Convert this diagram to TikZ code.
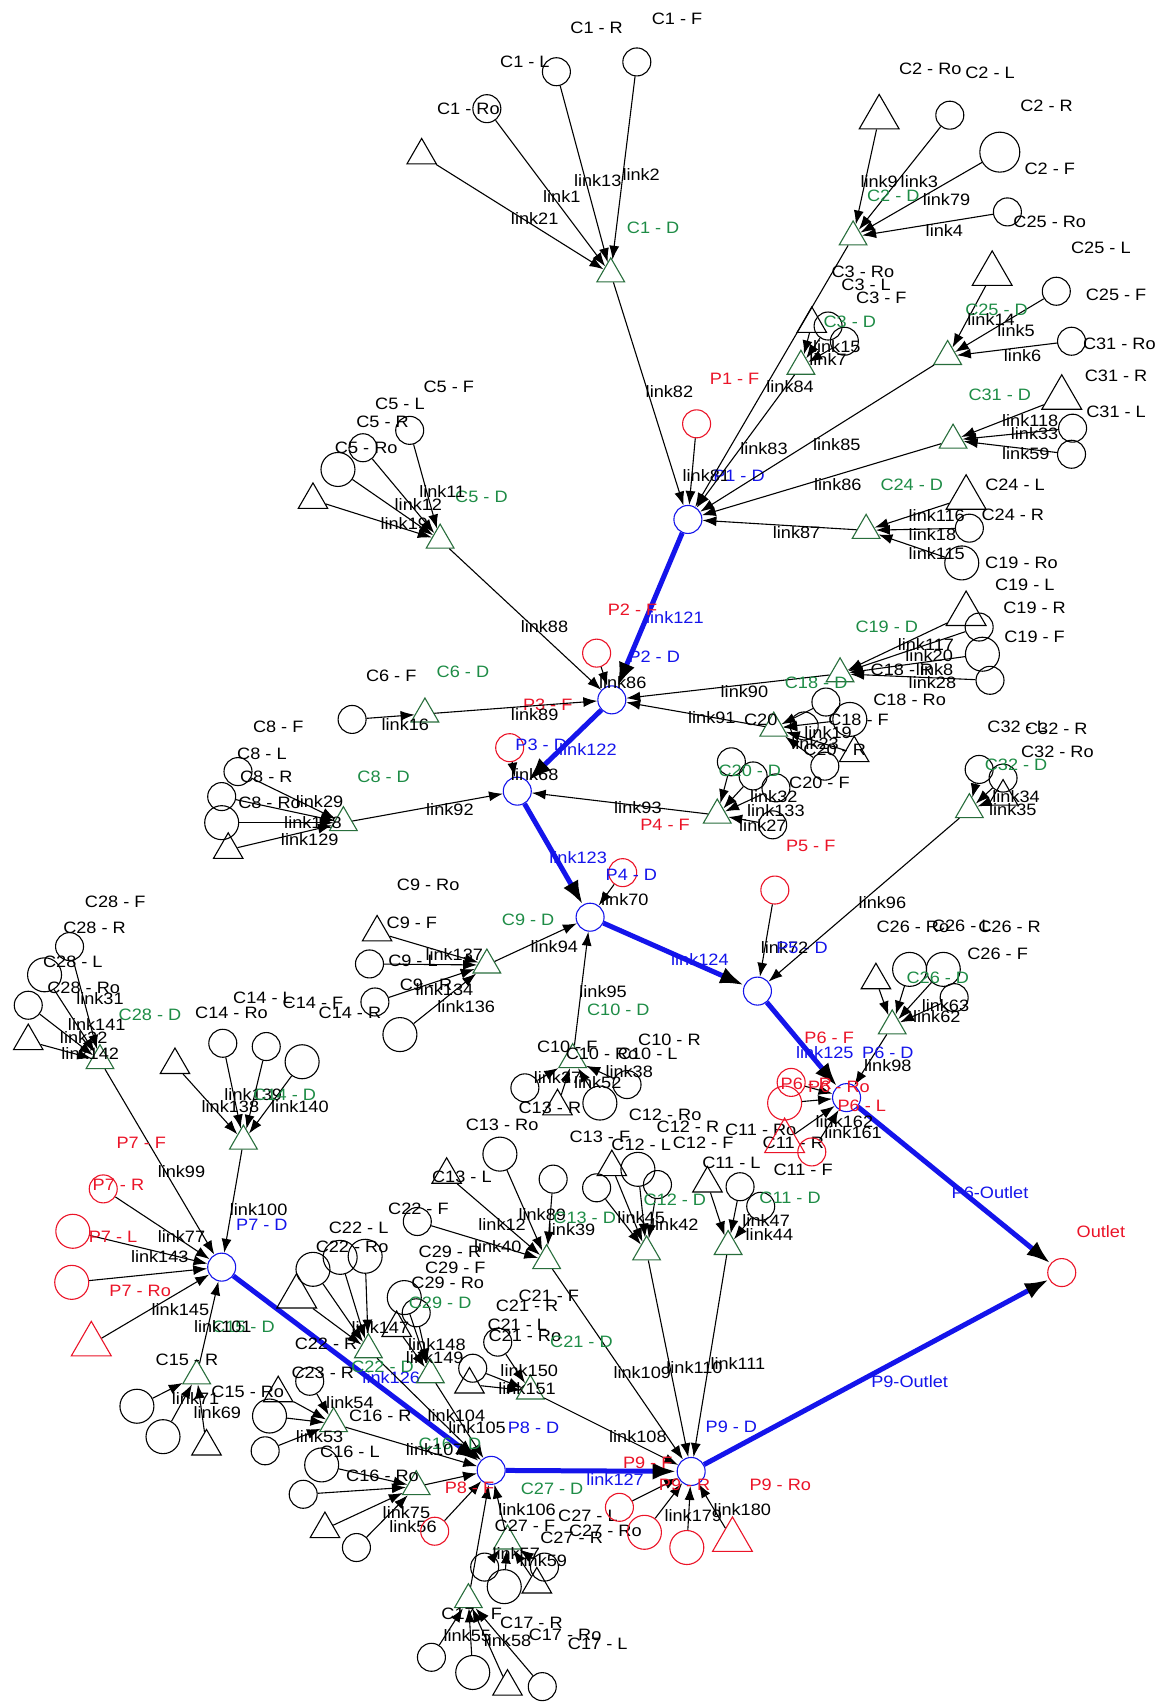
\documentclass[tikz,border=0pt]{standalone}
\usepackage{fontspec}
\setmainfont{Liberation Sans}[FakeStretch=1.1]
\usetikzlibrary{arrows.meta,shapes.geometric}
\definecolor{dgreen}{RGB}{40,110,60}
\definecolor{lgreen}{RGB}{30,140,70}
\definecolor{pred}{RGB}{235,20,40}
\definecolor{pblue}{RGB}{20,20,235}
\newcounter{lbn}
\newcommand\Lbl[3][lk]{\stepcounter{lbn}\node[#1] (lbl\arabic{lbn}) at (#2) {#3};}
\newcommand\Ed[2]{\draw[ed] (#1) -- (#2);}
\newcommand\Bl[2]{\draw[be] (#1) -- (#2);}
\tikzset{
 every node/.style={font=\fontsize{16.5}{17}\selectfont},
 ccs/.style={circle,draw,minimum size=28pt,inner sep=0pt,line width=1.1pt},
 ccm/.style={ccs,minimum size=34pt},
 ccb/.style={ccs,minimum size=40pt},
 tts/.style={regular polygon,regular polygon sides=3,draw,minimum size=34pt,inner sep=0pt,line width=1.1pt},
 ttb/.style={tts,minimum size=46pt},
 ttd/.style={tts,draw=dgreen,minimum size=32pt},
 pnn/.style={ccs,draw=pblue,fill=white},
 rcs/.style={ccs,draw=pred}, rcm/.style={ccm,draw=pred}, rts/.style={ttb,draw=pred},
 ed/.style={draw,line width=1.1pt,-{Latex[length=14pt,width=10pt]}},
 be/.style={draw=pblue,line width=5pt,-{Latex[length=24pt,width=17pt,color=black]}},
 lk/.style={inner sep=0pt,text=black}, lg/.style={lk,text=lgreen},
 lr/.style={lk,text=pred}, lb/.style={lk,text=pblue}
}
\begin{document}
\begin{tikzpicture}[x=1.0872pt,y=-1.0872pt]
\useasboundingbox[fill=white] (0,0) rectangle (1067,1568);
% ---------------- main pipe nodes
\node[pnn] (p1) at (633,478) {};
\node[pnn] (p2) at (563,644) {};
\node[pnn] (p3) at (476,728) {};
\node[pnn] (p4) at (543,844) {};
\node[pnn] (p5) at (697,912) {};
\node[pnn] (p6) at (779,1010) {};
\node[rcs] (out) at (977,1171) {};
\node[pnn] (p7) at (204,1166) {};
\node[pnn] (p8) at (452,1353) {};
\node[pnn] (p9) at (636,1354) {};
\Bl{p1}{p2}\Bl{p2}{p3}\Bl{p3}{p4}\Bl{p4}{p5}\Bl{p5}{p6}\Bl{p6}{out}
\Bl{p7}{p8}\Bl{p8}{p9}\Bl{p9}{out}
\Lbl[lb]{621,568}{link121}\Lbl[lb]{541,690}{link122}\Lbl[lb]{532,789}{link123}
\Lbl[lb]{644,883}{link124}\Lbl[lb]{759,969}{link125}\Lbl[lb]{360,1268}{link126}
\Lbl[lb]{566,1361}{link127}\Lbl[lb]{911,1097}{P6-Outlet}\Lbl[lb]{837,1271}{P9-Outlet}
\Lbl[lr]{1013,1133}{Outlet}
% ---------------- P feeders
\node[rcs] (p1f) at (641,390) {};\Ed{p1f}{p1}
\Lbl[lr]{676,349}{P1 - F}\Lbl{650,438}{link81}\Lbl[lb]{680,438}{P1 - D}
\node[rcs] (p2f) at (549,601) {};\Ed{p2f}{p2}
\Lbl[lr]{582,561}{P2 - F}\Lbl[lb]{602,604}{P2 - D}\Lbl{573,628}{link86}
\node[rcs] (p3f) at (469,688) {};\Ed{p3f}{p3}
\Lbl[lr]{504,649}{P3 - F}\Lbl[lb]{498,685}{P3 - D}\Lbl{492,713}{link68}
\node[rcs] (p4f) at (573,803) {};\Ed{p4f}{p4}
\Lbl[lr]{612,759}{P4 - F}\Lbl[lb]{581,805}{P4 - D}\Lbl{575,828}{link70}
\node[rcs] (p5f) at (713,819) {};\Ed{p5f}{p5}
\Lbl[lr]{746,778}{P5 - F}\Lbl{722,872}{link72}\Lbl[lb]{738,872}{P5 - D}
% ---------------- C1
\node[tts] (c1t) at (388,143) {};
\node[ccs] (c1ro) at (448,100) {};
\node[ccs] (c1l) at (512,66) {};
\node[ccs] (c1f) at (586,57) {};
\node[ttd] (c1d) at (562,252) {};
\Ed{c1t}{c1d}\Ed{c1ro}{c1d}\Ed{c1l}{c1d}\Ed{c1f}{c1d}\Ed{c1d}{p1}
\Lbl{549,26}{C1 - R}\Lbl{623,17}{C1 - F}\Lbl{483,57}{C1 - L}\Lbl{431,100}{C1 - Ro}
\Lbl{492,201}{link21}\Lbl{517,181}{link1}\Lbl{550,166}{link13}\Lbl{590,161}{link2}
\Lbl[lg]{601,210}{C1 - D}\Lbl{616,360}{link82}
% ---------------- C2
\node[ttb] (c2t) at (809,108) {};
\node[ccs] (c2a) at (874,106) {};
\node[ccb] (c2b) at (920,140) {};
\node[ccs] (c2c) at (927,195) {};
\node[ttd] (c2d) at (785,218) {};
\Ed{c2t}{c2d}\Ed{c2a}{c2d}\Ed{c2b}{c2d}\Ed{c2c}{c2d}\Ed{c2d}{p1}
\Lbl{856,63}{C2 - Ro}\Lbl{911,67}{C2 - L}\Lbl{963,97}{C2 - R}\Lbl{966,155}{C2 - F}
\Lbl{966,204}{C25 - Ro}\Lbl[lg]{822,180}{C2 - D}\Lbl{809,167}{link9}\Lbl{846,167}{link3}
\Lbl{871,184}{link79}\Lbl{869,212}{link4}\Lbl{703,413}{link83}
% ---------------- C3
\node[tts] (c3t) at (747,298) {};
\node[ccs] (c3a) at (762,300) {};
\node[ccs] (c3b) at (777,314) {};
\node[ttd] (c3d) at (737,337) {};
\Ed{c3t}{c3d}\Ed{c3a}{c3d}\Ed{c3b}{c3d}\Ed{c3d}{p1}
\Lbl{794,250}{C3 - Ro}\Lbl{797,262}{C3 - L}\Lbl{811,274}{C3 - F}\Lbl[lg]{782,296}{C3 - D}
\Lbl{770,319}{link15}\Lbl{762,331}{link7}\Lbl{727,356}{link84}
% ---------------- C25
\node[ttb] (c25t) at (913,252) {};
\node[ccs] (c25a) at (972,268) {};
\node[ccs] (c25b) at (986,314) {};
\node[ttd] (c25d) at (872,328) {};
\Ed{c25t}{c25d}\Ed{c25a}{c25d}\Ed{c25b}{c25d}\Ed{c25d}{p1}
\Lbl{1013,228}{C25 - L}\Lbl{1027,271}{C25 - F}\Lbl{1030,316}{C31 - Ro}
\Lbl[lg]{917,285}{C25 - D}\Lbl{912,294}{link14}\Lbl{935,304}{link5}\Lbl{941,327}{link6}
\Lbl{770,409}{link85}
% ---------------- C31
\node[ttb] (c31t) at (977,366) {};
\node[ccs] (c31a) at (987,394) {};
\node[ccs] (c31b) at (986,418) {};
\node[ttd] (c31d) at (877,405) {};
\Ed{c31t}{c31d}\Ed{c31a}{c31d}\Ed{c31b}{c31d}\Ed{c31d}{p1}
\Lbl{1027,346}{C31 - R}\Lbl{1027,379}{C31 - L}\Lbl[lg]{920,363}{C31 - D}
\Lbl{948,387}{link118}\Lbl{952,399}{link33}\Lbl{944,417}{link59}\Lbl{771,446}{link86}
% ---------------- C24
\node[ttb] (c24t) at (889,458) {};
\node[ccs] (c24a) at (892,486) {};
\node[ccm] (c24b) at (885,518) {};
\node[ttd] (c24d) at (797,488) {};
\Ed{c24t}{c24d}\Ed{c24a}{c24d}\Ed{c24b}{c24d}\Ed{c24d}{p1}
\Lbl[lg]{839,446}{C24 - D}\Lbl{934,446}{C24 - L}\Lbl{932,474}{C24 - R}
\Lbl{862,474}{link116}\Lbl{858,492}{link18}\Lbl{862,509}{link115}\Lbl{733,490}{link87}
\Lbl{940,518}{C19 - Ro}
% ---------------- C19 / C18
\node[ttb] (c19t) at (889,565) {};
\node[ccs] (c19a) at (901,577) {};
\node[ccm] (c19b) at (904,602) {};
\node[ccs] (c19c) at (911,626) {};
\node[ttd] (c19d) at (773,620) {};
\Ed{c19t}{c19d}\Ed{c19a}{c19d}\Ed{c19b}{c19d}\Ed{c19c}{c19d}\Ed{c19d}{p2}
\Lbl{943,538}{C19 - L}\Lbl{952,559}{C19 - R}\Lbl{952,586}{C19 - F}
\Lbl[lg]{816,577}{C19 - D}\Lbl[lg]{751,628}{C18 - D}\Lbl{852,593}{link117}
\Lbl{855,603}{link20}\Lbl{830,616}{C18 - R}\Lbl{860,616}{link8}\Lbl{858,628}{link28}
\Lbl{837,644}{C18 - Ro}\Lbl{685,636}{link90}
% ---------------- C20
\node[ttd] (c20d) at (712,670) {};
\node[ccs] (c20a) at (760,646) {};
\node[ccm] (c20b) at (782,662) {};
\node[ccs] (c20c) at (759,705) {};
\node[tts] (c20t) at (786,693) {};
\node[ccs] (c20e) at (740,668) {};
\Ed{c20a}{c20d}\Ed{c20b}{c20d}\Ed{c20c}{c20d}\Ed{c20t}{c20d}\Ed{c20e}{c20d}\Ed{c20d}{p2}
\Lbl{655,660}{link91}\Lbl{700,662}{C20}\Lbl{790,662}{C18 - F}\Lbl{762,674}{link19}
\Lbl{768,690}{C20 - R}\Lbl{750,684}{link23}
% ---------------- C30
\node[ttd] (c30d) at (660,750) {};
\node[ccs] (c30a) at (673,701) {};
\node[ccs] (c30b) at (714,725) {};
\node[ccs] (c30c) at (711,759) {};
\node[ccs] (c30e) at (693,714) {};
\Ed{c30a}{c30d}\Ed{c30b}{c30d}\Ed{c30c}{c30d}\Ed{c30e}{c30d}\Ed{c30d}{p3}
\Lbl[lg]{690,709}{C20 - D}\Lbl{754,720}{C20 - F}\Lbl{712,733}{link32}
\Lbl{714,746}{link133}\Lbl{702,760}{link27}\Lbl{587,743}{link93}
% ---------------- C32
\node[ttd] (c32d) at (892,745) {};
\node[ccs] (c32a) at (901,708) {};
\node[ccs] (c32b) at (923,716) {};
\node[tts] (c32t) at (923,733) {};
\Ed{c32a}{c32d}\Ed{c32b}{c32d}\Ed{c32t}{c32d}\Ed{c32d}{p5}
\Lbl{936,669}{C32 - L}\Lbl{972,671}{C32 - R}\Lbl{973,692}{C32 - Ro}
\Lbl[lg]{935,704}{C32 - D}\Lbl{935,733}{link34}\Lbl{932,745}{link35}\Lbl{812,831}{link96}
% ---------------- C5
\node[tts] (c5t) at (288,460) {};
\node[ccm] (c5a) at (311,432) {};
\node[ccs] (c5b) at (334,412) {};
\node[ccs] (c5c) at (377,396) {};
\node[ttd] (c5d) at (405,497) {};
\Ed{c5t}{c5d}\Ed{c5a}{c5d}\Ed{c5b}{c5d}\Ed{c5c}{c5d}\Ed{c5d}{p2}
\Lbl{413,356}{C5 - F}\Lbl{368,372}{C5 - L}\Lbl{352,388}{C5 - R}\Lbl{337,412}{C5 - Ro}
\Lbl[lg]{443,457}{C5 - D}\Lbl{407,452}{link11}\Lbl{385,464}{link12}\Lbl{372,482}{link19}
\Lbl{501,577}{link88}
% ---------------- C6
\node[ccs] (c6a) at (324,662) {};
\node[ttd] (c6d) at (391,657) {};
\Ed{c6a}{c6d}\Ed{c6d}{p2}
\Lbl{360,622}{C6 - F}\Lbl[lg]{426,618}{C6 - D}\Lbl{373,667}{link16}\Lbl{492,658}{link89}
% ---------------- C8
\node[ccs] (c8a) at (219,710) {};
\node[ccs] (c8b) at (204,733) {};
\node[ccm] (c8c) at (204,757) {};
\node[tts] (c8t) at (210,782) {};
\node[ttd] (c8d) at (316,757) {};
\Ed{c8a}{c8d}\Ed{c8b}{c8d}\Ed{c8c}{c8d}\Ed{c8t}{c8d}\Ed{c8d}{p3}
\Lbl{256,669}{C8 - F}\Lbl{241,694}{C8 - L}\Lbl{245,715}{C8 - R}\Lbl{248,739}{C8 - Ro}
\Lbl{294,738}{link29}\Lbl{288,757}{link128}\Lbl{285,773}{link129}
\Lbl[lg]{353,715}{C8 - D}\Lbl{414,745}{link92}
% ---------------- C9
\node[tts] (c9t) at (347,858) {};
\node[ccs] (c9a) at (340,887) {};
\node[ccs] (c9b) at (345,922) {};
\node[ccm] (c9c) at (368,952) {};
\node[ttd] (c9d) at (448,888) {};
\Ed{c9t}{c9d}\Ed{c9a}{c9d}\Ed{c9b}{c9d}\Ed{c9c}{c9d}\Ed{c9d}{p4}
\Lbl{394,814}{C9 - Ro}\Lbl{379,849}{C9 - F}\Lbl{380,884}{C9 - L}\Lbl{392,906}{C9 - R}
\Lbl{418,878}{link137}\Lbl{409,911}{link134}\Lbl{429,926}{link136}
\Lbl[lg]{486,846}{C9 - D}\Lbl{510,871}{link94}
% ---------------- C10
\node[ttd] (c10d) at (527,975) {};
\node[tts] (c10t) at (513,1018) {};
\node[ccs] (c10a) at (483,1001) {};
\node[ccm] (c10b) at (552,1015) {};
\node[ccs] (c10c) at (577,998) {};
\Ed{c10t}{c10d}\Ed{c10a}{c10d}\Ed{c10b}{c10d}\Ed{c10c}{c10d}\Ed{c10d}{p4}
\Lbl{522,963}{C10 - F}\Lbl{554,970}{C10 - Ro}\Lbl{596,970}{C10 - L}\Lbl{616,957}{C10 - R}
\Lbl[lg]{569,929}{C10 - D}\Lbl{506,1019}{C13 - R}\Lbl{513,992}{link37}
\Lbl{579,986}{link38}\Lbl{550,996}{link52}\Lbl{555,912}{link95}
% ---------------- C13
\node[tts] (c13t) at (411,1081) {};
\node[ccm] (c13a) at (460,1062) {};
\node[ccs] (c13b) at (509,1085) {};
\node[ccs] (c13c) at (384,1124) {};
\node[ttd] (c13d) at (503,1160) {};
\Ed{c13t}{c13d}\Ed{c13a}{c13d}\Ed{c13b}{c13d}\Ed{c13c}{c13d}\Ed{c13d}{p9}
\Lbl{462,1035}{C13 - Ro}\Lbl{425,1083}{C13 - L}\Lbl{552,1046}{C13 - F}
\Lbl{458,1147}{link40}\Lbl{462,1127}{link12}\Lbl{526,1131}{link39}\Lbl{499,1118}{link89}
\Lbl{385,1112}{C22 - F}\Lbl{591,1263}{link109}
% ---------------- C12
\node[tts] (c12t) at (563,1074) {};
\node[ccm] (c12a) at (587,1076) {};
\node[ccs] (c12b) at (605,1090) {};
\node[ccs] (c12c) at (549,1093) {};
\node[ttd] (c12d) at (595,1152) {};
\Ed{c12t}{c12d}\Ed{c12a}{c12d}\Ed{c12b}{c12d}\Ed{c12c}{c12d}\Ed{c12d}{p9}
\Lbl{612,1026}{C12 - Ro}\Lbl{633,1037}{C12 - R}\Lbl{590,1053}{C12 - L}\Lbl{647,1052}{C12 - F}
\Lbl[lg]{538,1121}{C13 - D}\Lbl[lg]{621,1104}{C12 - D}\Lbl{621,1127}{link42}
\Lbl{590,1120}{link45}\Lbl{639,1258}{link110}
% ---------------- C11
\node[tts] (c11t) at (651,1089) {};
\node[ccs] (c11a) at (681,1092) {};
\node[ccs] (c11b) at (700,1110) {};
\node[ttd] (c11d) at (670,1147) {};
\Ed{c11t}{c11d}\Ed{c11a}{c11d}\Ed{c11b}{c11d}\Ed{c11d}{p9}
\Lbl{700,1040}{C11 - Ro}\Lbl{673,1070}{C11 - L}\Lbl[lg]{727,1102}{C11 - D}
\Lbl{739,1076}{C11 - F}\Lbl{730,1052}{C11 - R}\Lbl{705,1123}{link47}\Lbl{708,1136}{link44}
\Lbl{679,1255}{link111}
% ---------------- C14
\node[tts] (c14t) at (161,980) {};
\node[ccs] (c14a) at (205,960) {};
\node[ccs] (c14b) at (245,963) {};
\node[ccm] (c14c) at (278,977) {};
\node[ttd] (c14d) at (224,1050) {};
\Ed{c14t}{c14d}\Ed{c14a}{c14d}\Ed{c14b}{c14d}\Ed{c14c}{c14d}\Ed{c14d}{p7}
\Lbl{213,932}{C14 - Ro}\Lbl{242,918}{C14 - L}\Lbl{288,923}{C14 - F}\Lbl{322,932}{C14 - R}
\Lbl{233,1007}{link139}\Lbl[lg]{262,1007}{C14 - D}\Lbl{212,1018}{link138}
\Lbl{276,1018}{link140}\Lbl{238,1113}{link100}\Lbl[lb]{241,1127}{P7 - D}
% ---------------- C28
\node[ccs] (c28a) at (64,871) {};
\node[ccm] (c28b) at (41,897) {};
\node[ccs] (c28c) at (26,925) {};
\node[tts] (c28t) at (26,958) {};
\node[ttd] (c28d) at (92,976) {};
\Ed{c28a}{c28d}\Ed{c28b}{c28d}\Ed{c28c}{c28d}\Ed{c28t}{c28d}\Ed{c28d}{p7}
\Lbl{106,830}{C28 - F}\Lbl{87,854}{C28 - R}\Lbl{67,885}{C28 - L}\Lbl{77,909}{C28 - Ro}
\Lbl[lg]{138,934}{C28 - D}\Lbl{92,919}{link31}\Lbl{89,943}{link141}\Lbl{77,955}{link32}
\Lbl{83,969}{link142}\Lbl{167,1078}{link99}
% ---------------- P7 feeders
\node[rcs] (p7r) at (95,1094) {};
\node[rcm] (p7l) at (67,1133) {};
\node[rcm] (p7ro) at (66,1180) {};
\node[rts] (p7t) at (84,1237) {};
\Ed{p7r}{p7}\Ed{p7l}{p7}\Ed{p7ro}{p7}\Ed{p7t}{p7}
\Lbl[lr]{130,1052}{P7 - F}\Lbl[lr]{109,1090}{P7 - R}\Lbl[lr]{104,1138}{P7 - L}
\Lbl[lr]{129,1188}{P7 - Ro}\Lbl{167,1138}{link77}\Lbl{147,1156}{link143}
\Lbl{166,1205}{link145}
% ---------------- C15
\node[ttd] (c15d) at (181,1266) {};
\node[ccm] (c15a) at (126,1294) {};
\node[ccm] (c15b) at (150,1322) {};
\node[tts] (c15t) at (190,1331) {};
\Ed{c15a}{c15d}\Ed{c15b}{c15d}\Ed{c15t}{c15d}\Ed{c15d}{p7}
\Lbl{172,1251}{C15 - R}\Lbl{228,1281}{C15 - Ro}\Lbl[lg]{224,1221}{C15 - D}
\Lbl{205,1221}{link101}\Lbl{180,1287}{link71}\Lbl{200,1300}{link69}
% ---------------- C23
\node[tts] (c23t) at (256,1282) {};
\node[ccs] (c23a) at (285,1271) {};
\node[ccm] (c23b) at (248,1303) {};
\node[ccs] (c23c) at (244,1335) {};
\node[ttd] (c23d) at (307,1310) {};
\Ed{c23t}{c23d}\Ed{c23a}{c23d}\Ed{c23b}{c23d}\Ed{c23c}{c23d}\Ed{c23d}{p8}
\Lbl{297,1263}{C23 - R}\Lbl{322,1291}{link54}\Lbl{294,1322}{link53}\Lbl{350,1303}{C16 - R}
% ---------------- C22
\node[ttb] (c22t) at (273,1193) {};
\node[ccm] (c22a) at (288,1168) {};
\node[ccm] (c22b) at (313,1157) {};
\node[ccm] (c22c) at (336,1156) {};
\node[ttd] (c22d) at (339,1242) {};
\Ed{c22t}{c22d}\Ed{c22a}{c22d}\Ed{c22b}{c22d}\Ed{c22c}{c22d}\Ed{c22d}{p8}
\Lbl{330,1130}{C22 - L}\Lbl{324,1147}{C22 - Ro}\Lbl{300,1237}{C22 - R}
\Lbl[lg]{352,1258}{C22 - D}\Lbl{350,1222}{link147}\Lbl{420,1303}{link104}
% ---------------- C29
\node[ccm] (c29a) at (372,1194) {};
\node[ccs] (c29b) at (383,1208) {};
\node[tts] (c29t) at (365,1222) {};
\node[ttd] (c29d) at (396,1265) {};
\Ed{c29a}{c29d}\Ed{c29b}{c29d}\Ed{c29t}{c29d}\Ed{c29d}{p8}
\Lbl{414,1152}{C29 - R}\Lbl{419,1167}{C29 - F}\Lbl{412,1180}{C29 - Ro}
\Lbl[lg]{405,1199}{C29 - D}\Lbl{402,1237}{link148}\Lbl{400,1249}{link149}
\Lbl{439,1314}{link105}\Lbl[lb]{491,1314}{P8 - D}
% ---------------- C21
\node[ccs] (c21a) at (458,1235) {};
\node[ccs] (c21b) at (435,1259) {};
\node[tts] (c21t) at (432,1274) {};
\node[ttd] (c21d) at (488,1280) {};
\Ed{c21a}{c21d}\Ed{c21b}{c21d}\Ed{c21t}{c21d}\Ed{c21d}{p9}
\Lbl{505,1192}{C21 - F}\Lbl{485,1202}{C21 - R}\Lbl{476,1219}{C21 - L}\Lbl{483,1229}{C21 - Ro}
\Lbl[lg]{535,1235}{C21 - D}\Lbl{487,1261}{link150}\Lbl{485,1278}{link151}
\Lbl{587,1322}{link108}
% ---------------- C16
\node[ccm] (c16a) at (296,1348) {};
\node[ccs] (c16b) at (279,1375) {};
\node[tts] (c16t) at (299,1407) {};
\node[ccs] (c16c) at (328,1424) {};
\node[ttd] (c16d) at (383,1368) {};
\Ed{c16a}{c16d}\Ed{c16b}{c16d}\Ed{c16t}{c16d}\Ed{c16c}{c16d}\Ed{c16d}{p8}
\Lbl{322,1336}{C16 - L}\Lbl{352,1358}{C16 - Ro}\Lbl{374,1392}{link75}\Lbl{380,1405}{link56}
\Lbl[lg]{414,1329}{C16 - D}\Lbl{400,1334}{link107}
% ---------------- C27
\node[ttd] (c27d) at (467,1418) {};
\node[ccs] (c27a) at (446,1442) {};
\node[ccm] (c27b) at (464,1460) {};
\node[ccs] (c27c) at (501,1442) {};
\node[tts] (c27t) at (494,1458) {};
\Ed{c27a}{c27d}\Ed{c27b}{c27d}\Ed{c27c}{c27d}\Ed{c27t}{c27d}\Ed{c27d}{p8}
\Lbl[lg]{508,1370}{C27 - D}\Lbl{541,1395}{C27 - L}\Lbl{557,1409}{C27 - Ro}
\Lbl{483,1404}{C27 - F}\Lbl{526,1415}{C27 - R}\Lbl{485,1389}{link106}
\Lbl{475,1430}{link57}\Lbl{500,1436}{link59}
% ---------------- C17
\node[ttd] (c17d) at (431,1472) {};
\node[ccs] (c17a) at (397,1525) {};
\node[ccm] (c17b) at (435,1539) {};
\node[tts] (c17t) at (467,1552) {};
\node[ccs] (c17c) at (499,1552) {};
\Ed{c17a}{c17d}\Ed{c17b}{c17d}\Ed{c17t}{c17d}\Ed{c17c}{c17d}\Ed{c17d}{p8}
\Lbl{434,1485}{C17 - F}\Lbl{489,1493}{C17 - R}\Lbl{520,1504}{C17 - Ro}\Lbl{550,1513}{C17 - L}
\Lbl{467,1510}{link58}\Lbl{430,1505}{link55}
% ---------------- P8 / P9 feeders
\node[rcs] (p8f) at (400,1409) {};\Ed{p8f}{p8}
\Lbl[lr]{432,1369}{P8 - F}
\node[rcs] (p9a) at (570,1387) {};
\node[rcm] (p9b) at (593,1410) {};
\node[rcm] (p9c) at (632,1424) {};
\node[rts] (p9t) at (674,1417) {};
\Ed{p9a}{p9}\Ed{p9b}{p9}\Ed{p9c}{p9}\Ed{p9t}{p9}
\Lbl[lr]{596,1346}{P9 - F}\Lbl[lr]{630,1366}{P9 - R}\Lbl[lr]{718,1366}{P9 - Ro}
\Lbl[lb]{673,1313}{P9 - D}\Lbl{683,1389}{link180}\Lbl{638,1395}{link179}
% ---------------- C26
\node[tts] (c26t) at (806,902) {};
\node[ccm] (c26a) at (837,892) {};
\node[ccm] (c26b) at (868,892) {};
\node[ccs] (c26c) at (878,918) {};
\node[ttd] (c26d) at (821,944) {};
\Ed{c26t}{c26d}\Ed{c26a}{c26d}\Ed{c26b}{c26d}\Ed{c26c}{c26d}\Ed{c26d}{p6}
\Lbl{840,853}{C26 - Ro}\Lbl{885,852}{C26 - L}\Lbl{929,853}{C26 - R}\Lbl{918,878}{C26 - F}
\Lbl[lg]{863,900}{C26 - D}\Lbl{862,935}{link62}\Lbl{870,925}{link63}
\Lbl{817,981}{link98}\Lbl[lb]{817,969}{P6 - D}
% ---------------- P6 feeders
\node[rcs] (p6a) at (728,996) {};
\node[rcm] (p6b) at (722,1015) {};
\node[rcs] (p6c) at (747,1060) {};
\node[rts] (p6t) at (722,1050) {};
\Ed{p6a}{p6}\Ed{p6b}{p6}\Ed{p6c}{p6}\Ed{p6t}{p6}
\Lbl[lr]{763,955}{P6 - F}\Lbl[lr]{742,997}{P6 - R}\Lbl[lr]{772,1000}{P6 - Ro}
\Lbl[lr]{793,1018}{P6 - L}\Lbl{777,1032}{link162}\Lbl{785,1042}{link161}
\end{tikzpicture}
\end{document}
